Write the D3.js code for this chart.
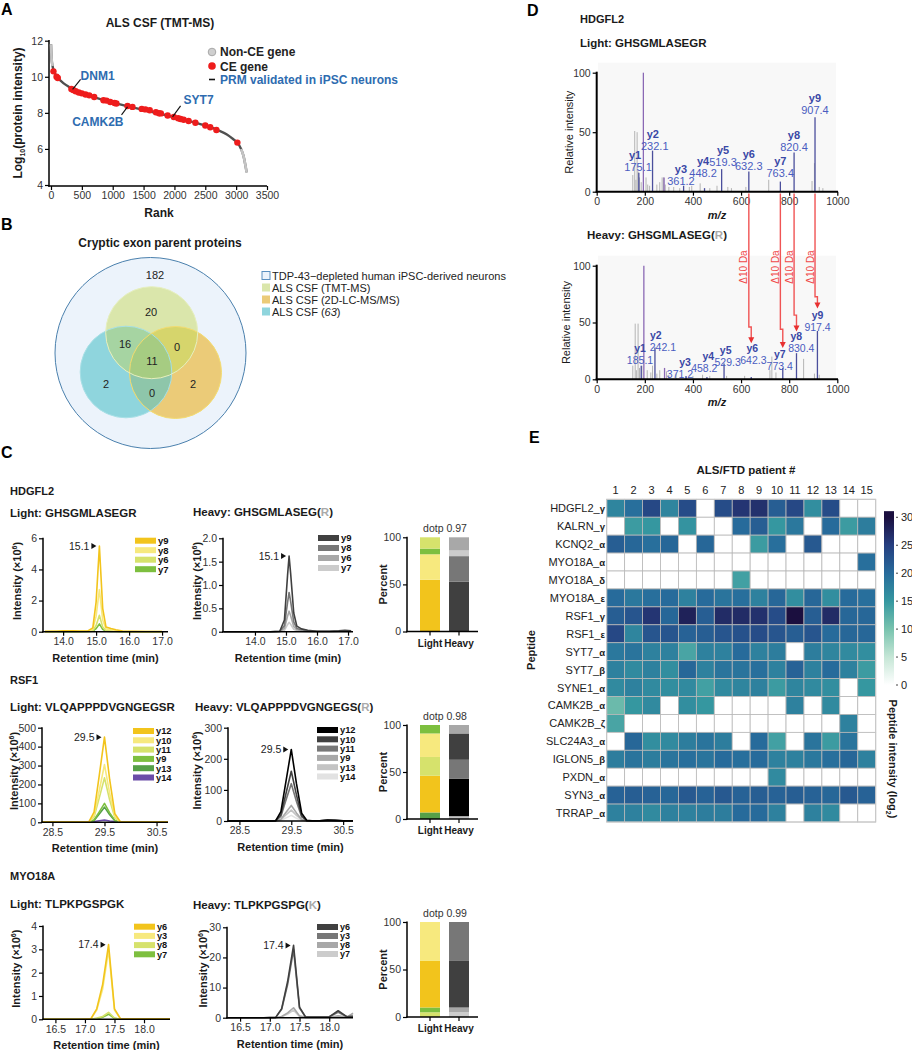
<!DOCTYPE html>
<html><head><meta charset="utf-8">
<script src="https://cdn.jsdelivr.net/npm/d3@7"></script>
<style>body{margin:0;background:#fff}svg{display:block}</style>
</head><body><svg id="fig" width="912" height="1050"></svg>
<script>
// ================= DATA =================
// Panel A
const rankCurve = [0,10,25,50,100,150,200,300,400,500,700,1000,1250,1500,1750,2000,2250,2500,2700,2850,2950,3020,3080,3120,3150,3170];
const intensityCurve = [11.8,11.0,10.6,10.3,9.98,9.8,9.65,9.42,9.22,9.08,8.87,8.57,8.36,8.16,7.96,7.76,7.54,7.3,7.05,6.8,6.55,6.35,6.0,5.6,5.1,4.7];
const ceRank = [40,90,110,330,360,400,450,500,560,620,700,850,900,960,1030,1060,1240,1320,1470,1530,1600,1700,1750,1780,1890,1990,2060,2100,2150,2230,2340,2500,2580,2680,3020];
const ceIntensity = [10.3,10.0,9.93,9.32,9.27,9.2,9.13,9.08,9.02,8.97,8.88,8.7,8.68,8.6,8.55,8.52,8.38,8.33,8.22,8.19,8.14,8.03,7.98,7.97,7.85,7.77,7.7,7.66,7.62,7.55,7.45,7.3,7.2,7.05,6.35];
const prmGenes = ["DNM1","CAMK2B","SYT7"];
const prmRank = [350,1240,1970];
const prmIntensity = [9.3,8.33,7.78];

// Panel B
const vennSets = ["TDP-43\u2212depleted human iPSC-derived neurons","ALS CSF (TMT-MS)","ALS CSF (2D-LC-MS/MS)","ALS CSF ("];
const vennRegions = ["neuronsOnly","tmtOnly","tmt_63","tmt_2d","all","only63","d63_2d","only2d"];
const vennCounts = [182,20,16,0,11,2,0,2];

// Panel C  (intensities x10^6)
const hdLightTime = [13.45,13.8,14.0,14.3,14.5,14.75,14.9,15.0,15.1,15.2,15.3,15.45,15.6,15.8,16.1,16.5,17.0];
const hdLightIons = ["y9","y8","y6","y7"];
const hdLightVals = [
 [0.02,0.03,0.05,0.05,0.04,0.05,0.25,1.9,5.5,1.5,0.3,0.2,0.12,0.04,0.02,0.01,0.01],
 [0.01,0.02,0.03,0.03,0.02,0.03,0.15,1.0,2.7,0.75,0.18,0.12,0.07,0.02,0.01,0.01,0.01],
 [0,0.01,0.01,0.01,0.01,0.02,0.06,0.4,1.05,0.3,0.07,0.05,0.03,0.01,0,0,0],
 [0,0,0,0,0,0.01,0.03,0.2,0.5,0.15,0.03,0.02,0.01,0,0,0,0]];
const hdHeavyTime = [13.0,13.5,14.0,14.5,14.8,14.95,15.05,15.1,15.15,15.25,15.35,15.5,15.7,16.0,16.4,16.7,16.9,17.1];
const hdHeavyIons = ["y9","y8","y6","y7"];
const hdHeavyVals = [
 [0,0,0,0,0.01,0.25,1.2,1.62,1.25,0.4,0.12,0.06,0.03,0.01,0.01,0.02,0.03,0.02],
 [0,0,0,0,0.01,0.13,0.62,0.84,0.65,0.21,0.07,0.04,0.02,0.01,0.01,0.01,0.02,0.01],
 [0,0,0,0,0,0.07,0.33,0.44,0.34,0.11,0.04,0.02,0.01,0,0,0.01,0.01,0.01],
 [0,0,0,0,0,0.03,0.15,0.2,0.16,0.05,0.02,0.01,0,0,0,0,0,0]];
const rsfLightTime = [28.3,28.6,28.9,29.1,29.2,29.3,29.4,29.5,29.6,29.7,29.8,29.9,30.1,30.4,30.72];
const rsfLightIons = ["y12","y10","y11","y9","y13","y14"];
const rsfLightVals = [
 [2,2,2,2,2,54,248,450,225,45,4,2,2,2,2],
 [1,1,1,1,1,37,168,305,152,30,2,1,1,1,1],
 [1,1,1,1,1,28,129,235,118,24,2,1,1,1,1],
 [0,0,0,0,0,12,55,100,50,10,1,0,0,0,0],
 [0,0,0,0,0,10,44,80,40,8,1,0,0,0,0],
 [3,3,3,3,3,4,8,12,7,4,3,3,3,3,3]];
const rsfHeavyTime = [28.28,28.6,28.9,29.1,29.2,29.3,29.4,29.5,29.6,29.7,29.8,29.9,30.05,30.2,30.35,30.5,30.69];
const rsfHeavyIons = ["y12","y10","y11","y9","y13","y14"];
const rsfHeavyVals = [
 [0,0,0,0,1,30,130,230,120,25,2,1,1,3,2,1,1],
 [0,0,0,0,1,20,90,160,84,17,1,1,1,2,2,1,1],
 [0,0,0,0,1,15,68,120,63,13,1,0,1,2,1,1,0],
 [0,0,0,0,0,6,28,50,26,5,1,0,0,1,1,0,0],
 [0,0,0,0,0,4,20,35,18,4,0,0,0,1,1,0,0],
 [0,0,0,0,0,2,10,18,9,2,0,0,0,0,0,0,0]];
const myoLightTime = [16.29,16.6,16.9,17.1,17.2,17.3,17.4,17.5,17.6,17.8,18.1,18.44];
const myoLightIons = ["y6","y3","y8","y7"];
const myoLightVals = [
 [0,0,0,0.02,0.45,1.5,3.2,0.45,0.03,0.02,0.02,0.02],
 [0,0,0,0.02,0.4,1.3,2.95,0.4,0.03,0.02,0.02,0.02],
 [0,0,0,0,0.05,0.12,0.3,0.05,0,0,0,0],
 [0,0,0,0,0.03,0.09,0.22,0.04,0,0,0,0]];
const myoHeavyTime = [16.28,16.6,16.9,17.1,17.2,17.3,17.4,17.5,17.6,17.8,18.0,18.15,18.3,18.4];
const myoHeavyIons = ["y6","y3","y8","y7"];
const myoHeavyVals = [
 [0,0,0,0.1,3,12,24,3.5,0.3,0.2,0.3,2.3,0.3,0.5],
 [0,0,0,0.1,2.8,11,22.5,3.2,0.3,0.2,0.3,1.8,0.3,0.5],
 [0,0,0,0,0.4,1.6,3.3,0.6,0.1,0.1,0.1,0.6,0.2,1.5],
 [0,0,0,0,0.3,1.2,2.5,0.4,0.1,0.1,0.1,0.3,0.3,1.2]];
// percent bars (bottom -> top)
const hdBarIons = ["y9","y8","y7","y6"];
const hdBarLight = [55,27,6,12];
const hdBarHeavy = [53,27,6,14];
const rsfBarIons = ["y13","y12","y11","y10","y9"];
const rsfBarLight = [7,39,20,25,9];
const rsfBarHeavy = [3,40,20,28,9];
const myoBarIonsLight = ["y8","y7","y6","y3"];
const myoBarLight = [5,5,49,41];
const myoBarIonsHeavy = ["y7","y8","y6","y3"];
const myoBarHeavy = [5,5,49,41];
const dotp = ["0.97","0.98","0.99"];

// Panel D spectra (m/z, relative intensity)
const lightGrayMz  = [150,158,163,168,172,178,185,205,212,220,250,262,272,278,285,300,320,345,385,395,430,470,500,545,560,620,715,895,905,925,940];
const lightGrayInt = [14,51,10,50,17,12,8,12,6,5,6,8,12,12,6,4,4,3,4,5,7,3,5,4,3,4,10,9,24,4,3];
const lightPurpleMz = [194,280];
const lightPurpleInt = [100,12];
const ionNames = ["y1","y2","y3","y4","y5","y6","y7","y8","y9"];
const lightIonMz  = [175.1,232.1,361.2,448.2,519.3,632.3,763.4,820.4,907.4];
const lightIonInt = [16,34.5,5,3,19,17,8.5,33,62.5];
const heavyGrayMz  = [150,160,165,172,178,188,210,225,232,250,262,290,300,330,400,440,470,540,615,720,728,745,860,905,925];
const heavyGrayInt = [12,49,8,49,10,12,8,6,12,5,8,7,4,5,3,4,3,3,3,8,20,6,18,5,4];
const heavyPurpleMz = [196,282];
const heavyPurpleInt = [100,10];
const heavyIonMz  = [185.1,242.1,371.2,458.2,529.3,642.3,773.4,830.4,917.4];
const heavyIonInt = [12,28,3,2,14,2,10,23,42.5];
const shiftedIons = ["y6","y7","y8","y9"];

// Panel E heatmap (log2 peptide intensity; null = not detected)
const patients = d3.range(1,16);
const peptideGenes = ["HDGFL2","KALRN","KCNQ2","MYO18A","MYO18A","MYO18A","RSF1","RSF1","SYT7","SYT7","SYNE1","CAMK2B","CAMK2B","SLC24A3","IGLON5","PXDN","SYN3","TRRAP"];
const peptideSuffix = ["\u03b3","\u03b3","\u03b1","\u03b1","\u03b4","\u03b5","\u03b3","\u03b5","\u03b1","\u03b2","\u03b1","\u03b1","\u03b6","\u03b1","\u03b2","\u03b1","\u03b1","\u03b1"];
const N = null;
const heatValues = [
 [17,19.5,24,17,23.5,N,23.5,26,26.5,21.5,24,16,23.5,N,N],
 [N,14.5,15,N,15.5,N,N,20,21.5,15,18.5,N,20,14.5,18],
 [21.5,20.5,19.5,20.5,N,20.5,N,N,14.5,19.5,N,22,N,N,N],
 [N,N,N,N,N,N,N,N,N,N,N,N,N,N,19.5],
 [N,N,N,N,N,N,N,14,N,N,N,N,N,N,N],
 [20,18.5,19.5,20,17.5,20,19,19.5,17.5,20.5,16,20.5,16,20,19.5],
 [21.5,22.5,26,20.5,28,21.5,27,27,26.5,23.5,30,21.5,27,20.5,20.5],
 [24,17,22.5,22.5,21,21.5,22.5,23,23.5,22.5,21.5,22.5,20,20.5,20.5],
 [18.5,19,17.5,17.5,13.5,17.5,17.5,20,17.5,18,N,18,17,16.5,16],
 [17.5,16.5,17.5,16,20.5,17.5,19,19,19.5,17.5,21,17.5,20,17.5,14.5],
 [16.5,17.5,16.5,16,16.5,14,16.5,17,17.5,14.5,17,16.5,16,N,15],
 [11,15,16.5,N,16,15,N,N,N,N,17.5,N,16.5,N,N],
 [13.5,N,N,N,N,N,N,N,N,N,N,N,N,17.5,N],
 [N,20.5,16,16.5,18,19,18,N,20,14,N,19,14.5,19,N],
 [18,19,18,19,19.5,19,20,19.5,20,17.5,17.5,18.5,19.5,20.5,17.5],
 [N,N,N,N,N,N,N,N,N,16.5,N,N,N,N,N],
 [21,21.5,21,20.5,22,21,22,21,21.5,21,21.5,21,20.5,22,21],
 [17.5,17.5,16.5,17.5,17.5,18,18,20,20,17.5,N,17.5,16.5,N,N]];
const colorTicks = [0,5,10,15,20,25,30];

// ================= DRAWING =================
const F = '"Liberation Sans", Arial, Helvetica, sans-serif';
const svg = d3.select("#fig").attr("font-family", F);

function T(x,y,s,o={}){
  const t = svg.append("text").attr("x",x).attr("y",y).attr("font-size",o.fs||11)
    .attr("fill",o.c||"#1a1a1a").attr("text-anchor",o.a||"start");
  if(o.b) t.attr("font-weight","bold");
  if(o.i) t.attr("font-style","italic");
  if(o.r!=null) t.attr("transform",`rotate(${o.r},${x},${y})`);
  if(s!=null) t.text(s);
  return t;
}
function L(x1,y1,x2,y2,c="#000",w=1.5){
  return svg.append("line").attr("x1",x1).attr("y1",y1).attr("x2",x2).attr("y2",y2).attr("stroke",c).attr("stroke-width",w);
}
function styleAxis(g,fs,c="#222"){
  g.attr("font-family",F);
  g.select(".domain").remove();
  g.selectAll(".tick line").attr("stroke","#000").attr("stroke-width",1.2);
  g.selectAll(".tick text").attr("font-size",fs).attr("fill",c);
}

// panel letters
[["A",1,15],["B",1,230],["C",1,458],["D",527,16],["E",529,443]].forEach(d=>T(d[1],d[2],d[0],{b:1,fs:16,c:"#000"}));

// ---------- Panel A ----------
{
  const xA = d3.scaleLinear().domain([0,3500]).range([51,267]);
  const yA = d3.scaleLinear().domain([4,12]).range([185,40.7]);
  T(160,27,"ALS CSF (TMT-MS)",{b:1,fs:12,a:"middle"});
  const ax = svg.append("g").attr("transform","translate(0,186)")
    .call(d3.axisBottom(xA).tickValues(d3.range(0,3501,500)).tickFormat(d3.format("d")).tickSize(4).tickPadding(2));
  styleAxis(ax,10.5,"#333");
  const ay = svg.append("g").attr("transform","translate(49,0)")
    .call(d3.axisLeft(yA).tickValues([4,6,8,10,12]).tickSize(4).tickPadding(2));
  styleAxis(ay,10.5,"#333");
  L(49,40,49,186.75); L(48.25,186,267,186);
  T(159,217,"Rank",{b:1,fs:12,a:"middle"});
  const yl = T(22,113,null,{b:1,fs:12,a:"middle",r:-90});
  yl.append("tspan").text("Log");
  yl.append("tspan").attr("font-size",7).attr("dy",3).text("10");
  yl.append("tspan").attr("dy",-3).text("(protein intensity)");

  const pts = rankCurve.map((r,i)=>[r,intensityCurve[i]]);
  const ln = d3.line().x(d=>xA(d[0])).y(d=>yA(d[1])).curve(d3.curveMonotoneX);
  svg.append("path").attr("d",ln(pts)).attr("fill","none").attr("stroke","#505050").attr("stroke-width",2.4);
  svg.append("path").attr("d",ln(pts.filter(d=>d[0]<=25))).attr("fill","none").attr("stroke","#c4c4c4").attr("stroke-width",2.6);
  svg.append("path").attr("d",ln(pts.filter(d=>d[0]>=3080))).attr("fill","none").attr("stroke","#c4c4c4").attr("stroke-width",2.6);
  svg.selectAll(".ce").data(ceRank).enter().append("circle")
    .attr("cx",d=>xA(d)).attr("cy",(d,i)=>yA(ceIntensity[i])).attr("r",3.2).attr("fill","#ee1c1c");
  const blue = "#2e6cb0";
  const off = [[8,-10,0,1,"start"],[-6,8,2,11,"end"],[8,-11,3,-2,"start"]];
  prmGenes.forEach((g,i)=>{
    const px = xA(prmRank[i]), py = yA(prmIntensity[i]);
    const o = off[i];
    L(px,py,px+o[0],py+o[1],"#111",1.1);
    T(px+o[0]+o[2],py+o[1]+o[3],g,{b:1,fs:12,c:blue,a:o[4]});
  });
  svg.append("circle").attr("cx",212).attr("cy",52).attr("r",3.8).attr("fill","#cfcfcf").attr("stroke","#a8a8a8");
  T(220,56,"Non-CE gene",{b:1,fs:12,c:"#222"});
  svg.append("circle").attr("cx",212).attr("cy",66).attr("r",3.8).attr("fill","#ee1c1c");
  T(220,70.5,"CE gene",{b:1,fs:12,c:"#222"});
  L(209,79.5,215,79.5,"#111",1.6);
  T(220,84,"PRM validated in iPSC neurons",{b:1,fs:12,c:blue});
}

// ---------- Panel B ----------
{
  T(160,247,"Cryptic exon parent proteins",{b:1,fs:12,a:"middle"});
  const defs = svg.append("defs");
  const circ = {outer:[150.5,353,95.5], tmt:[151.7,332.7,46], c63:[126,372,45.8], lc:[175.5,372.5,46]};
  Object.entries(circ).forEach(([k,c])=>{
    defs.append("clipPath").attr("id","clip-"+k).append("circle").attr("cx",c[0]).attr("cy",c[1]).attr("r",c[2]);
  });
  const C = (k,fill,clip)=>{ const e = svg.append("circle").attr("cx",circ[k][0]).attr("cy",circ[k][1]).attr("r",circ[k][2]).attr("fill",fill); if(clip) e.attr("clip-path",`url(#clip-${clip})`); return e;};
  C("outer","#ecf3fb").attr("stroke","#4a80ad").attr("stroke-width",1);
  C("c63","#8fd5dd"); C("lc","#ebcb78"); C("tmt","#dae6ab");
  C("tmt","#a6d4a2","c63"); C("tmt","#d6d56c","lc"); C("lc","#8ec6aa","c63");
  svg.append("g").attr("clip-path","url(#clip-c63)").append("circle")
     .attr("cx",circ.lc[0]).attr("cy",circ.lc[1]).attr("r",circ.lc[2]).attr("fill","#a6cc82").attr("clip-path","url(#clip-tmt)");
  C("c63","none").attr("stroke","#a8e0e6").attr("stroke-width",1);
  C("lc","none").attr("stroke","#f4dc70").attr("stroke-width",1);
  C("tmt","none").attr("stroke","#e6efbf").attr("stroke-width",1);
  const pos = [[155,275],[151,311.5],[125,344],[177,347],[152,361],[106,384],[152,393],[193,384]];
  vennCounts.forEach((v,i)=>T(pos[i][0],pos[i][1]+4,String(v),{fs:11,a:"middle",c:"#222"}));
  const legCol = [["#ecf3fb","#5a8fbf"],["#dae6ab",null],["#ebcb78",null],["#8fd5dd",null]];
  vennSets.forEach((s,i)=>{
    const cy = 275.5+i*12;
    const r = svg.append("rect").attr("x",262).attr("y",cy-4).attr("width",8).attr("height",8).attr("fill",legCol[i][0]);
    if(legCol[i][1]) r.attr("stroke",legCol[i][1]).attr("stroke-width",1);
    const t = T(272,cy+4,null,{fs:11,c:"#222"});
    t.append("tspan").text(s);
    if(i===3){ t.append("tspan").attr("font-style","italic").text("63"); t.append("tspan").text(")"); }
  });
}

// ---------- Panel C ----------
const lightCol = {
  hd:{y9:"#f2c41c",y8:"#f7e97e",y6:"#d6e26c",y7:"#7dbf3f"},
  rsf:{y12:"#f2c41c",y10:"#f7e97e",y11:"#d6e26c",y9:"#7dbf3f",y13:"#56a048",y14:"#6a4ca8"},
  myo:{y6:"#f2c41c",y3:"#f7e97e",y8:"#d6e26c",y7:"#7dbf3f"}};
const heavyCol = {
  hd:{y9:"#404040",y8:"#777777",y6:"#a8a8a8",y7:"#cccccc"},
  rsf:{y12:"#000000",y10:"#404040",y11:"#777777",y9:"#a8a8a8",y13:"#c4c4c4",y14:"#e2e2e2"},
  myo:{y6:"#404040",y3:"#777777",y8:"#a8a8a8",y7:"#cccccc"}};

function heading(x,y,prefix,seq,last){
  const t = T(x,y,null,{b:1,fs:11.5});
  t.append("tspan").text(prefix+seq);
  if(last){ t.append("tspan").text("("); t.append("tspan").attr("fill","#aaa").text(last); t.append("tspan").text(")"); }
}

function drawChrom(p){
  const x = d3.scaleLinear().domain(p.xd).range(p.xr);
  const y = d3.scaleLinear().domain(p.yd).range(p.yr);
  const ln = d3.line().x((d,i)=>x(p.t[i])).y(d=>y(d)).curve(d3.curveLinear);
  for(let i=p.vals.length-1;i>=0;i--){
    svg.append("path").attr("d",ln(p.vals[i])).attr("fill","none").attr("stroke",p.col[p.ions[i]])
      .attr("stroke-width",1.6).attr("stroke-linejoin","round");
  }
  const ax = svg.append("g").attr("transform",`translate(0,${p.yr[0]})`)
    .call(d3.axisBottom(x).tickValues(p.xt).tickFormat(d3.format(".1f")).tickSize(4).tickPadding(2));
  styleAxis(ax,10.5,"#333");
  const yf = p.yfmt ? (d=>d===0?"0":d3.format(p.yfmt)(d)) : d3.format("d");
  const ay = svg.append("g").attr("transform",`translate(${p.xr[0]},0)`)
    .call(d3.axisLeft(y).tickValues(p.yt).tickFormat(yf).tickSize(4).tickPadding(2));
  styleAxis(ay,10.5,"#333");
  L(p.xr[0],p.yr[1]-0.5,p.xr[0],p.yr[0]+0.75); L(p.xr[0]-0.75,p.yr[0],p.xr[1],p.yr[0]);
  T((p.xr[0]+p.xr[1])/2,p.yr[0]+30,"Retention time (min)",{b:1,fs:11,a:"middle"});
  const yl = T(p.ylx,(p.yr[0]+p.yr[1])/2-4,null,{b:1,fs:11,a:"middle",r:-90});
  yl.append("tspan").text("Intensity (\u00d710");
  yl.append("tspan").attr("font-size",7).attr("dy",-4).text("6");
  yl.append("tspan").attr("dy",4).text(")");
  // apex label
  const ax0 = x(p.apex), ay0 = y(d3.max(p.vals[0]));
  svg.append("path").attr("d",`M${ax0-8},${ay0-3}L${ax0-3},${ay0}L${ax0-8},${ay0+3}Z`).attr("fill","#111");
  T(ax0-10,ay0+3.5,p.apex.toFixed(1),{fs:10.5,a:"end",c:"#222"});
  // legend
  p.ions.forEach((ion,i)=>{
    const cy = p.legY + i*p.legDy;
    svg.append("rect").attr("x",p.legX).attr("y",cy-3).attr("width",21).attr("height",6).attr("fill",p.col[ion]);
    T(p.legX+23,cy+3.3,ion,{b:1,fs:Math.min(9.5,p.legDy),c:"#111"});
  });
}

function drawBars(p){
  const y = d3.scaleLinear().domain([0,100]).range([p.y0,p.y100]);
  const x = d3.scalePoint().domain(["Light","Heavy"]).range([430,459]);
  [["Light",p.lv,p.li,p.lc],["Heavy",p.hv,p.hi,p.hc]].forEach(([k,v,ions,col])=>{
    const cum = d3.cumsum(v);
    v.forEach((val,i)=>{
      svg.append("rect").attr("x",x(k)-10).attr("width",20).attr("y",y(cum[i])).attr("height",y(cum[i]-val)-y(cum[i])).attr("fill",col[ions[i]]);
    });
  });
  const ay = svg.append("g").attr("transform","translate(407,0)")
    .call(d3.axisLeft(y).tickValues([0,50,100]).tickSize(4).tickPadding(2));
  styleAxis(ay,10.5,"#333");
  L(407,p.y100-0.5,407,p.y0+0.75); L(406.25,p.y0,478,p.y0);
  x.domain().forEach(k=>{ L(x(k),p.y0,x(k),p.y0+4,"#000",1.2); T(x(k),p.y0+15,k,{b:1,fs:10,a:"middle"}); });
  T(445,p.y100-5,"dotp "+p.dotp,{fs:10.5,a:"middle",c:"#333"});
  T(387,(p.y0+p.y100)/2,"Percent",{b:1,fs:11,a:"middle",r:-90});
}

// HDGFL2
T(10,495,"HDGFL2",{b:1,fs:11});
heading(10,517,"Light: ","GHSGMLASEGR");
heading(193,516,"Heavy: ","GHSGMLASEG","R");
drawChrom({t:hdLightTime,vals:hdLightVals,ions:hdLightIons,col:lightCol.hd,xd:[13.39,17.18],xr:[43,168],yd:[0,6],yr:[631.7,538.3],
  xt:[14,15,16,17],yt:[0,2,4,6],ylx:21,apex:15.1,legX:135,legY:540.7,legDy:9.5});
drawChrom({t:hdHeavyTime,vals:hdHeavyVals,ions:hdHeavyIons,col:heavyCol.hd,xd:[12.97,17.16],xr:[223,353],yd:[0,2],yr:[631.7,538.3],
  xt:[14,15,16,17],yt:[0,0.5,1,1.5,2],yfmt:".1f",ylx:201,apex:15.1,legX:318,legY:538,legDy:10});
drawBars({y0:631.5,y100:537.3,lv:hdBarLight,li:hdBarIons,lc:lightCol.hd,hv:hdBarHeavy,hi:hdBarIons,hc:heavyCol.hd,dotp:dotp[0]});

// RSF1
T(10,684,"RSF1",{b:1,fs:11});
heading(10,711,"Light: ","VLQAPPPDVGNGEGSR");
heading(195,711,"Heavy: ","VLQAPPPDVGNGEGS","R");
drawChrom({t:rsfLightTime,vals:rsfLightVals,ions:rsfLightIons,col:lightCol.rsf,xd:[28.3,30.72],xr:[42,168],yd:[0,500],yr:[822.3,727.7],
  xt:[28.5,29.5,30.5],yt:[0,100,200,300,400,500],ylx:18,apex:29.5,legX:133,legY:731,legDy:9.3});
drawChrom({t:rsfHeavyTime,vals:rsfHeavyVals,ions:rsfHeavyIons,col:heavyCol.rsf,xd:[28.28,30.69],xr:[228,353],yd:[0,300],yr:[821,727.7],
  xt:[28.5,29.5,30.5],yt:[0,100,200,300],ylx:201,apex:29.5,legX:317,legY:730,legDy:9.3});
drawBars({y0:819,y100:725,lv:rsfBarLight,li:rsfBarIons,lc:lightCol.rsf,hv:rsfBarHeavy,hi:rsfBarIons,hc:heavyCol.rsf,dotp:dotp[1]});

// MYO18A
T(10,880,"MYO18A",{b:1,fs:11});
heading(10,908,"Light: ","TLPKPGSPGK");
heading(193,909,"Heavy: ","TLPKPGSPG","K");
drawChrom({t:myoLightTime,vals:myoLightVals,ions:myoLightIons,col:lightCol.myo,xd:[16.29,18.44],xr:[43,170],yd:[0,4],yr:[1019.3,926],
  xt:[16.5,17,17.5,18],yt:[0,1,2,3,4],ylx:20,apex:17.4,legX:134,legY:926.7,legDy:9.2});
drawChrom({t:myoHeavyTime,vals:myoHeavyVals,ions:myoHeavyIons,col:heavyCol.myo,xd:[16.28,18.4],xr:[227,353],yd:[0,30],yr:[1017.7,927.3],
  xt:[16.5,17,17.5,18],yt:[0,10,20,30],ylx:207,apex:17.4,legX:317,legY:927,legDy:9.0});
drawBars({y0:1017,y100:922,lv:myoBarLight,li:myoBarIonsLight,lc:lightCol.myo,hv:myoBarHeavy,hi:myoBarIonsHeavy,hc:heavyCol.myo,dotp:dotp[2]});

// ---------- Panel D ----------
function drawSpectrum(p){
  const x = d3.scaleLinear().domain([0,1000]).range([596.7,837.3]);
  const y = d3.scaleLinear().domain([0,100]).range([p.y0,p.y100]);
  svg.append("rect").attr("x",598).attr("y",p.y100-10).attr("width",238).attr("height",p.y0-p.y100+10).attr("fill","#f8f8f8");
  const stick = (mz,it,c,w)=>mz.forEach((m,i)=>L(x(m),p.y0,x(m),y(it[i]),c,w));
  stick(p.gMz,p.gInt,"#b4b4b4",1);
  stick(p.pMz,p.pInt,"#8a68b4",1.3);
  stick(p.iMz,p.iInt,"#4b4f9c",1.3);
  const ax = svg.append("g").attr("transform",`translate(0,${p.y0})`)
    .call(d3.axisBottom(x).tickValues(d3.range(0,1001,200)).tickFormat(d3.format("d")).tickSize(4).tickPadding(2));
  styleAxis(ax,10.5,"#333");
  const ay = svg.append("g").attr("transform","translate(596.7,0)")
    .call(d3.axisLeft(y).tickValues([0,50,100]).tickSize(4).tickPadding(2));
  styleAxis(ay,10.5,"#333");
  L(596.7,p.y100-1,596.7,p.y0+1,"#000",2); L(595.7,p.y0,838,p.y0,"#000",2);
  T(717,p.y0+27,"m/z",{b:1,i:1,fs:11,a:"middle"});
  T(p.ylx,(p.y0+p.y100)/2,"Relative intensity",{fs:11,a:"middle",r:-90});
  ionNames.forEach((n,i)=>{
    const lb = p.lab[i];
    const lx = x(lb[0]), ly = y(lb[1]);
    T(lx+(lb[2]||0),ly-8,n,{b:1,fs:p.fs,c:"#3a48a6",a:"middle"});
    T(lx+(lb[3]||0),ly+4,p.iMz[i].toFixed(1),{fs:p.fs,c:"#4a5cc0",a:"middle"});
  });
  return {x,y};
}
T(580,23,"HDGFL2",{b:1,fs:11});
heading(580,47,"Light: ","GHSGMLASEGR");
heading(587,238.5,"Heavy: ","GHSGMLASEG","R");
const sL = drawSpectrum({y0:191.7,y100:72.7,ylx:573,fs:11,gMz:lightGrayMz,gInt:lightGrayInt,pMz:lightPurpleMz,pInt:lightPurpleInt,iMz:lightIonMz,iInt:lightIonInt,
  lab:[[172,21,-3],[233,38.7,0,2],[350,9.2],[442,15.5],[525,24.7],[632,21.8],[763,15.5],[820,37.3],[907,68.7]]});
const sH = drawSpectrum({y0:379.3,y100:265.7,ylx:570,fs:10.5,gMz:heavyGrayMz,gInt:heavyGrayInt,pMz:heavyPurpleMz,pInt:heavyPurpleInt,iMz:heavyIonMz,iInt:heavyIonInt,
  lab:[[180,17],[275,28.7,-7],[367,4.7,0,-5],[464,9.7,0,-4],[536,15,0,2],[647,17,0,1],[769,11.7,-2,-2],[838,27.8,-2,3],[918,46.3]]});
// shift arrows
{
  const kink = [46,44,56.5,72.7], end = [31.7,27.5,42,62.4];
  shiftedIons.forEach((ion,i)=>{
    const k = ionNames.indexOf(ion);
    const x1 = sL.x(lightIonMz[k]), x2 = sH.x(heavyIonMz[k]);
    const yk = sH.y(kink[i]), ye = sH.y(end[i]);
    svg.append("path").attr("d",`M${x1},193.5V${yk}H${x2}V${ye-5}`).attr("fill","none").attr("stroke","#f05454").attr("stroke-width",1.4);
    svg.append("path").attr("d",`M${x2-3},${ye-6}L${x2+3},${ye-6}L${x2},${ye}Z`).attr("fill","#e83030");
    T(x1-1.5,267,"\u039410 Da",{fs:10,c:"#f04848",a:"middle",r:-90});
  });
}

// ---------- Panel E ----------
{
  const x = d3.scaleBand().domain(patients).range([606.7,875.7]);
  const y = d3.scaleBand().domain(d3.range(peptideGenes.length)).range([499.3,822]);
  const color = d3.scaleLinear().domain(colorTicks)
    .range(["#ffffff","#c5e6d6","#78c3ae","#3597a0","#276b9b","#263f80","#1b0f3f"]).clamp(true);
  T(746,474,"ALS/FTD patient #",{b:1,fs:11.5,a:"middle"});
  patients.forEach(pn=>T(x(pn)+x.bandwidth()/2,493.5,String(pn),{fs:11,a:"middle",c:"#222"}));
  heatValues.forEach((row,r)=>row.forEach((v,c)=>{
    svg.append("rect").attr("x",x(patients[c])).attr("y",y(r)).attr("width",x.bandwidth()).attr("height",y.bandwidth())
      .attr("fill",v==null?"#ffffff":color(v)).attr("stroke","#b8b8b8").attr("stroke-width",0.8);
  }));
  svg.append("rect").attr("x",606.7).attr("y",499.3).attr("width",269).attr("height",322.7).attr("fill","none").attr("stroke","#c8c8c8").attr("stroke-width",1);
  peptideGenes.forEach((g,r)=>{
    const t = T(605,y(r)+y.bandwidth()/2+4,null,{fs:11,a:"end",c:"#222"});
    t.append("tspan").text(g+"_");
    t.append("tspan").attr("font-weight","bold").attr("font-size",9.5).text(peptideSuffix[r]);
  });
  T(535,650,"Peptide",{b:1,fs:11,a:"middle",r:-90});
  // colorbar
  const cy = d3.scaleLinear().domain([0,30]).range([685,517.3]);
  const grad = svg.append("defs").append("linearGradient").attr("id","cbar").attr("x1",0).attr("y1",1).attr("x2",0).attr("y2",0);
  d3.range(0,31.1,1).forEach(v=>grad.append("stop").attr("offset",v/31.1).attr("stop-color",color(v)));
  svg.append("rect").attr("x",884).attr("y",cy(31.1)).attr("width",10).attr("height",cy(0)-cy(31.1)).attr("fill","url(#cbar)");
  colorTicks.forEach(v=>{ L(896,cy(v),898,cy(v),"#444",1); T(901,cy(v)+4,String(v),{fs:11,c:"#222"}); });
  const ct = T(889,759,null,{b:1,fs:11,a:"middle",r:90});
  ct.append("tspan").text("Peptide intensity (log");
  ct.append("tspan").attr("font-size",7).attr("dy",3).text("2");
  ct.append("tspan").attr("dy",-3).text(")");
}
</script></body></html>
